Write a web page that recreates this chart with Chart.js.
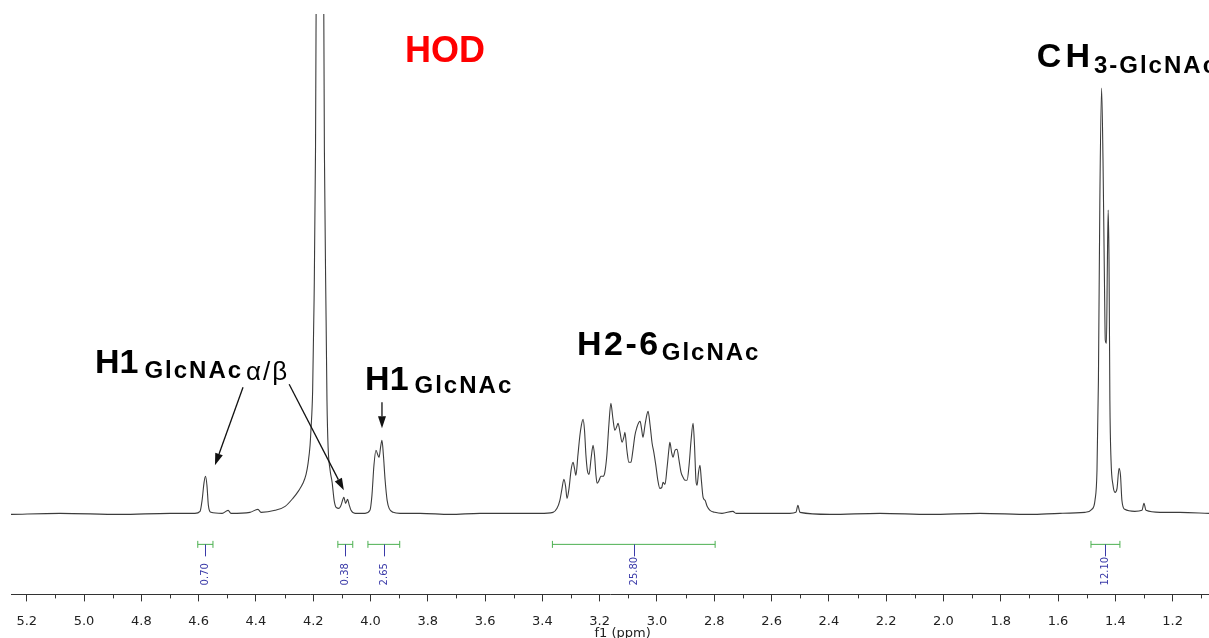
<!DOCTYPE html>
<html>
<head>
<meta charset="utf-8">
<script src="https://cdn.jsdelivr.net/npm/chart.js@4.4.0/dist/chart.umd.min.js"></script>
<style>
  html, body { margin: 0; padding: 0; background: #fff; overflow: hidden; }
  canvas { display: block; }
</style>
</head>
<body>
<canvas id="nmr" width="1209" height="641"></canvas>
<script>
/* ── 1H NMR trace, f1 in ppm, intensity in arbitrary units ── */
const shiftPpm = [
  5.255, 5.084, 4.874, 4.700, 4.613, 4.595, 4.588, 4.581, 4.576, 4.571, 4.566, 4.557,
  4.518, 4.497, 4.487, 4.421, 4.393, 4.382, 4.333, 4.298, 4.271, 4.250, 4.236, 4.225,
  4.218, 4.211, 4.208, 4.202, 4.197, 4.192, 4.188, 4.176, 4.165, 4.161, 4.155, 4.152,
  4.148, 4.141, 4.134, 4.127, 4.120, 4.110, 4.103, 4.093, 4.087, 4.080, 4.075, 4.068,
  4.054, 4.019, 4.002, 3.995, 3.988, 3.981, 3.974, 3.970, 3.965, 3.960, 3.955, 3.949,
  3.942, 3.935, 3.921, 3.897, 3.827, 3.722, 3.618, 3.513, 3.408, 3.363, 3.349, 3.339,
  3.332, 3.325, 3.319, 3.314, 3.307, 3.300, 3.293, 3.288, 3.283, 3.276, 3.269, 3.264,
  3.258, 3.253, 3.248, 3.243, 3.237, 3.230, 3.223, 3.218, 3.213, 3.209, 3.202, 3.196,
  3.188, 3.182, 3.175, 3.168, 3.161, 3.154, 3.147, 3.140, 3.136, 3.129, 3.122, 3.115,
  3.112, 3.105, 3.098, 3.091, 3.084, 3.077, 3.070, 3.063, 3.059, 3.054, 3.049, 3.042,
  3.035, 3.031, 3.024, 3.017, 3.011, 3.004, 2.997, 2.990, 2.983, 2.979, 2.972, 2.965,
  2.958, 2.955, 2.949, 2.944, 2.937, 2.930, 2.923, 2.916, 2.909, 2.902, 2.895, 2.888,
  2.881, 2.874, 2.869, 2.864, 2.860, 2.855, 2.850, 2.845, 2.839, 2.832, 2.825, 2.815,
  2.798, 2.773, 2.735, 2.724, 2.641, 2.536, 2.515, 2.508, 2.501, 2.396, 2.222, 2.047,
  1.873, 1.698, 1.593, 1.506, 1.482, 1.471, 1.464, 1.459, 1.454, 1.448, 1.443, 1.438,
  1.435, 1.431, 1.428, 1.425, 1.422, 1.419, 1.415, 1.408, 1.401, 1.394, 1.387, 1.382,
  1.377, 1.367, 1.332, 1.307, 1.300, 1.293, 1.244, 1.175, 1.073
];
const intensity = [
  -1, 0, -1, 0, 0, 2, 13, 31, 37, 28, 8, 1,
  0, 3, 0, 1, 4, 1, 3, 7, 15, 23, 30, 39,
  50, 68, 83, 123, 213, 363, 613, 713, 613, 363, 193, 113,
  66, 43, 31, 13, 6, 5, 8, 16, 10, 14, 9, 3,
  0, 0, 3, 18, 48, 63, 58, 56, 66, 73, 58, 33,
  13, 5, 1, 0, 0, -1, 0, 0, 0, 1, 5, 13,
  24, 34, 27, 15, 25, 43, 51, 45, 38, 58, 78, 88,
  94, 83, 58, 43, 39, 55, 68, 58, 38, 30, 33, 37,
  37, 41, 58, 88, 110, 95, 83, 87, 90, 81, 71, 77,
  81, 63, 51, 51, 63, 78, 86, 91, 92, 85, 76, 88,
  99, 102, 88, 70, 61, 48, 33, 25, 26, 31, 29, 45,
  65, 71, 61, 56, 63, 64, 53, 41, 36, 33, 33, 48,
  73, 90, 68, 33, 28, 41, 48, 33, 16, 13, 7, 3,
  1, 0, 2, 0, 0, 0, 1, 8, 1, -1, 0, -1,
  0, -1, 0, 1, 4, 13, 43, 133, 313, 425, 353, 233,
  173, 170, 243, 303, 253, 113, 53, 28, 21, 25, 45, 38,
  13, 4, 2, 3, 10, 3, 1, 1, 0
];

/* ── axis ticks ── */
const majorTicks = [5.2, 5.0, 4.8, 4.6, 4.4, 4.2, 4.0, 3.8, 3.6, 3.4, 3.2, 3.0, 2.8, 2.6, 2.4, 2.2, 2.0, 1.8, 1.6, 1.4, 1.2];
const minorTicks = [5.1, 4.9, 4.7, 4.5, 4.3, 4.1, 3.9, 3.7, 3.5, 3.3, 3.1, 2.9, 2.7, 2.5, 2.3, 2.1, 1.9, 1.7, 1.5, 1.3, 1.1];

/* ── integration regions ── */
const integralFrom = [4.603, 4.114, 4.009, 3.365, 1.485];
const integralTo   = [4.550, 4.062, 3.898, 2.797, 1.384];
const integralText = ['0.70', '0.38', '2.65', '25.80', '12.10'];

const BRACKET_Y = -31;     // bracket level, intensity units
const GREEN = '#4cb050';
const BLUE  = '#3a3aa8';
const LABEL_FONT = '"Liberation Sans", Arial, sans-serif';
const AXIS_FONT  = '"DejaVu Sans", sans-serif';

// peak assignments, anchored in data space (ppm, intensity) at the text baseline
const peakLabels = [
  { at: [3.880, 451], parts: [{ t: 'HOD', size: 36, color: '#ff0000' }] },
  { at: [4.962, 140], parts: [{ t: 'H1', size: 34 }, { t: 'GlcNAc', size: 24, dy: 5, sp: 2, gap: 6 }, { t: 'α/β', size: 26, dy: 7, sp: 2, bold: false, gap: 3 }] },
  { at: [4.019, 123], parts: [{ t: 'H1', size: 34 }, { t: 'GlcNAc', size: 24, dy: 3, sp: 2, gap: 6 }] },
  { at: [3.279, 158], parts: [{ t: 'H2-6', size: 34, sp: 2.5 }, { t: 'GlcNAc', size: 24, dy: 5, sp: 2, gap: 1 }] },
  { at: [1.674, 446], parts: [{ t: 'CH', size: 34, sp: 4 }, { t: '3-GlcNAc', size: 24, dy: 6, sp: 2, gap: 0 }] },
];
const arrows = [
  { from: [4.445, 126], to: [4.543, 48] },
  { from: [4.284, 129], to: [4.093, 23] },
  { from: [3.960, 111], to: [3.960, 85] },
];

function drawArrow(ctx, x0, y0, x1, y1) {
  const a = Math.atan2(y1 - y0, x1 - x0), L = 12, W = 4;
  const bx = x1 - L * Math.cos(a), by = y1 - L * Math.sin(a);
  ctx.beginPath(); ctx.moveTo(x0, y0); ctx.lineTo(bx, by); ctx.stroke();
  ctx.beginPath();
  ctx.moveTo(x1, y1);
  ctx.lineTo(bx + W * Math.sin(a), by - W * Math.cos(a));
  ctx.lineTo(bx - W * Math.sin(a), by + W * Math.cos(a));
  ctx.closePath(); ctx.fill();
}

const decor = {
  id: 'decor',
  afterDatasetsDraw(chart) {
    const { ctx, chartArea, scales: { x, y } } = chart;
    ctx.save();

    // minor ticks (shorter than the major ones Chart.js draws)
    ctx.strokeStyle = '#333'; ctx.lineWidth = 1;
    minorTicks.forEach(v => {
      const px = Math.round(x.getPixelForValue(v)) + 0.5;
      ctx.beginPath(); ctx.moveTo(px, chartArea.bottom); ctx.lineTo(px, chartArea.bottom + 4); ctx.stroke();
    });

    // axis title, sits a little right of centre and is cut by the page edge
    ctx.font = `13px ${AXIS_FONT}`;
    ctx.fillStyle = '#222'; ctx.textAlign = 'center'; ctx.textBaseline = 'middle';
    ctx.fillText('f1 (ppm)', x.getPixelForValue(3.12), chartArea.bottom + 39);

    // integral values: stub + rotated number
    ctx.font = `10px ${AXIS_FONT}`;
    ctx.textAlign = 'left'; ctx.textBaseline = 'middle';
    integralText.forEach((txt, i) => {
      const px = Math.round(x.getPixelForValue((integralFrom[i] + integralTo[i]) / 2)) + 0.5;
      const yTop = y.getPixelForValue(BRACKET_Y);
      ctx.strokeStyle = BLUE;
      ctx.beginPath(); ctx.moveTo(px, yTop); ctx.lineTo(px, yTop + 12); ctx.stroke();
      ctx.save();
      ctx.translate(px, y.getPixelForValue(-72));
      ctx.rotate(-Math.PI / 2);
      ctx.fillStyle = BLUE;
      ctx.fillText(txt, 0, 0);
      ctx.restore();
    });

    // arrows
    ctx.strokeStyle = '#111'; ctx.fillStyle = '#111'; ctx.lineWidth = 1.3;
    arrows.forEach(a => drawArrow(ctx,
      x.getPixelForValue(a.from[0]), y.getPixelForValue(a.from[1]),
      x.getPixelForValue(a.to[0]), y.getPixelForValue(a.to[1])));

    // peak labels with subscripts
    ctx.textAlign = 'left'; ctx.textBaseline = 'alphabetic';
    peakLabels.forEach(lb => {
      let cx = x.getPixelForValue(lb.at[0]);
      const by = y.getPixelForValue(lb.at[1]);
      lb.parts.forEach(p => {
        cx += p.gap || 0;
        ctx.font = `${p.bold === false ? '' : 'bold '}${p.size}px ${LABEL_FONT}`;
        ctx.letterSpacing = (p.sp || 0) + 'px';
        ctx.fillStyle = p.color || '#000';
        ctx.fillText(p.t, cx, by + (p.dy || 0));
        cx += ctx.measureText(p.t).width;
      });
      ctx.letterSpacing = '0px';
    });

    ctx.restore();
  }
};

const trace = shiftPpm.map((p, i) => ({ x: p, y: intensity[i] }));
const brackets = integralFrom.map((f, i) => ({
  data: [{ x: f, y: BRACKET_Y }, { x: integralTo[i], y: BRACKET_Y }],
  borderColor: GREEN, borderWidth: 1,
  pointStyle: 'line', pointRotation: 90, pointRadius: 3.5,
  pointBorderColor: GREEN, pointBorderWidth: 1,
}));

new Chart(document.getElementById('nmr'), {
  type: 'line',
  data: {
    datasets: [
      {
        data: trace,
        borderColor: '#3c3c3c', borderWidth: 1.1,
        pointRadius: 0, cubicInterpolationMode: 'monotone',
      },
      ...brackets,
    ],
  },
  options: {
    responsive: false, animation: false, events: [],
    layout: { autoPadding: false, padding: { left: 11, top: 14, right: 0, bottom: 0 } },
    plugins: { legend: { display: false }, tooltip: { enabled: false } },
    scales: {
      x: {
        type: 'linear', reverse: true, min: 1.073, max: 5.255,
        afterBuildTicks: s => { s.ticks = majorTicks.map(v => ({ value: v })); },
        afterFit: s => { s.paddingLeft = 0; s.paddingRight = 0; },
        ticks: {
          callback: v => v.toFixed(1),
          color: '#222', font: { family: AXIS_FONT, size: 13 },
          padding: 12, maxRotation: 0, autoSkip: false,
        },
        grid: { drawOnChartArea: false, drawTicks: true, tickLength: 7, color: '#333' },
        border: { display: true, color: '#333', width: 1 },
      },
      y: { display: false, min: -81, max: 499 },
    },
  },
  plugins: [decor],
});
</script>
</body>
</html>
